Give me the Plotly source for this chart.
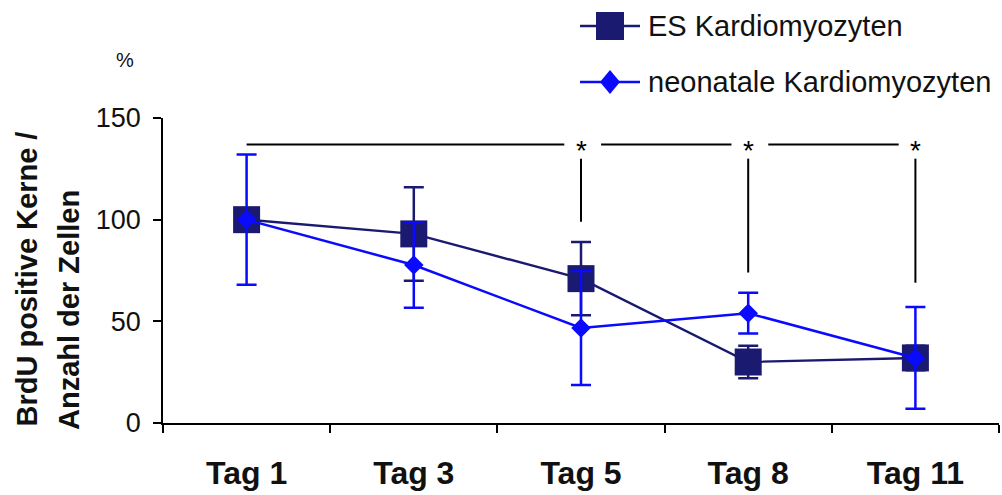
import plotly.graph_objects as go

# --- data -------------------------------------------------------------
days = ["Tag 1", "Tag 3", "Tag 5", "Tag 8", "Tag 11"]

es_mean = [100, 93, 71, 30, 32]
es_err = [0, 23, 18, 8, 6]

neo_mean = [100, 77.7, 46.7, 54, 32]
neo_err = [32, 21, 28, 10, 25]

y_ticks = [0, 50, 100, 150]

# significance markers: bracket level, drop-line top and bottom per day
sig_days = ["Tag 5", "Tag 8", "Tag 11"]
sig_level = 137
sig_top = 130
sig_bottom = [99, 74, 69]

ES_COLOR = "#1a1a70"
NEO_COLOR = "#0a0aff"
FONT = "Liberation Sans, Arial, sans-serif"

# --- figure geometry (pixels) ----------------------------------------
W, H = 1002, 495
ML, MR, MT, MB = 163, 3, 118, 72
PW, PH = W - ML - MR, H - MT - MB


def px_x(px):
    return (px - ML) / PW


def px_y(py):
    return (H - MB - py) / PH


fig = go.Figure()

fig.add_trace(go.Scatter(
    x=days, y=es_mean, name="ES Kardiomyozyten", mode="lines+markers",
    line=dict(color=ES_COLOR, width=2.4),
    marker=dict(symbol="square", size=27, color=ES_COLOR),
    error_y=dict(type="data", array=es_err, color=ES_COLOR,
                 thickness=2.5, width=10),
))
fig.add_trace(go.Scatter(
    x=days, y=neo_mean, name="neonatale Kardiomyozyten", mode="lines+markers",
    line=dict(color=NEO_COLOR, width=2.5),
    marker=dict(symbol="diamond", size=15, color=NEO_COLOR),
    error_y=dict(type="data", array=neo_err, color=NEO_COLOR,
                 thickness=2.5, width=10),
))

shapes = []
annotations = []

# significance bracket: horizontal segments interrupted by the asterisks
idx = [days.index(d) for d in sig_days]
start = 0
for i, b in zip(idx, sig_bottom):
    shapes.append(dict(type="line", xref="x", yref="y",
                       x0=start, x1=i - 0.1, y0=sig_level, y1=sig_level,
                       line=dict(color="black", width=2)))
    shapes.append(dict(type="line", xref="x", yref="y",
                       x0=i, x1=i, y0=sig_top, y1=b,
                       line=dict(color="black", width=2)))
    annotations.append(dict(x=i, y=sig_level, xref="x", yref="y",
                            text="*", showarrow=False, yanchor="middle",
                            yshift=-6,
                            font=dict(family=FONT, size=28, color="black")))
    start = i + 0.12

# legend drawn in paper space
leg = [("ES Kardiomyozyten", ES_COLOR, "square", 26),
       ("neonatale Kardiomyozyten", NEO_COLOR, "diamond", 82)]
for label, color, sym, cy in leg:
    shapes.append(dict(type="line", xref="paper", yref="paper",
                       x0=px_x(580), x1=px_x(640), y0=px_y(cy), y1=px_y(cy),
                       line=dict(color=color, width=2.5)))
    if sym == "square":
        shapes.append(dict(type="rect", xref="paper", yref="paper",
                           x0=px_x(596), x1=px_x(624),
                           y0=px_y(cy + 14), y1=px_y(cy - 14),
                           fillcolor=color, line=dict(width=0)))
    else:
        path = "M {} {} L {} {} L {} {} L {} {} Z".format(
            px_x(610), px_y(cy - 12), px_x(620), px_y(cy),
            px_x(610), px_y(cy + 12), px_x(600), px_y(cy))
        shapes.append(dict(type="path", xref="paper", yref="paper",
                           path=path, fillcolor=color, line=dict(width=0)))
    annotations.append(dict(x=px_x(646), y=px_y(cy), xref="paper", yref="paper",
                            text=label, showarrow=False,
                            xanchor="left", yanchor="middle",
                            font=dict(family=FONT, size=29, color="#111")))

# y-axis title, two lines, plus unit
annotations.append(dict(x=px_x(26), y=px_y(429), xref="paper", yref="paper",
                        text="<b>BrdU positive Kerne /</b>", textangle=-90,
                        showarrow=False, xanchor="center", yanchor="bottom",
                        font=dict(family=FONT, size=29, color="#111")))
annotations.append(dict(x=px_x(69), y=px_y(432), xref="paper", yref="paper",
                        text="<b>Anzahl der Zellen</b>", textangle=-90,
                        showarrow=False, xanchor="center", yanchor="bottom",
                        font=dict(family=FONT, size=29, color="#111")))
annotations.append(dict(x=px_x(125), y=px_y(60), xref="paper", yref="paper",
                        text="%", showarrow=False,
                        xanchor="center", yanchor="middle",
                        font=dict(family=FONT, size=20, color="#111")))

fig.update_layout(
    width=W, height=H,
    margin=dict(l=ML, r=MR, t=MT, b=MB, pad=0),
    paper_bgcolor="white", plot_bgcolor="white",
    showlegend=False,
    shapes=shapes, annotations=annotations,
    font=dict(family=FONT, color="#111"),
)
fig.update_xaxes(
    type="category", range=[-0.5, 4.5],
    tickvals=days, ticktext=["<b>%s</b>" % d for d in days],
    showline=True, linecolor="black", linewidth=1.5,
    ticks="outside", tickson="boundaries", ticklen=8, tickcolor="black",
    tickwidth=1.5, ticklabelstandoff=21,
    tickfont=dict(family=FONT, size=32, color="#111"),
    showgrid=False, zeroline=False,
)
fig.update_yaxes(
    range=[0, 150], tickvals=y_ticks,
    showline=True, linecolor="black", linewidth=1.5,
    ticks="outside", ticklen=8, tickcolor="black", tickwidth=1.5,
    ticklabelstandoff=7,
    tickfont=dict(family=FONT, size=27, color="#111"),
    showgrid=False, zeroline=False,
)

fig.write_html("out.html")
